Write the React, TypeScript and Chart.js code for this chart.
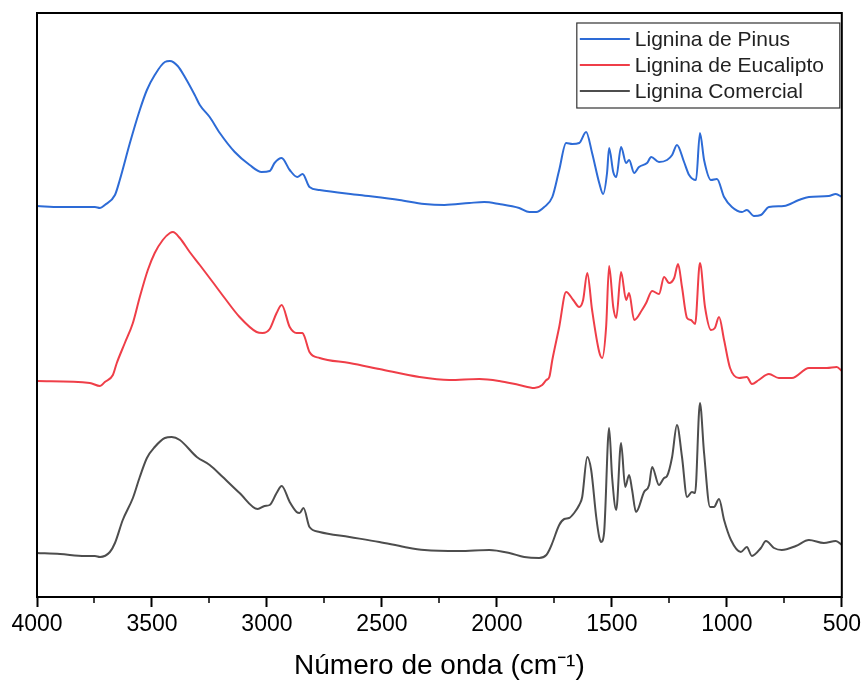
import React, { useEffect, useRef } from "react";
import { Chart, registerables } from "chart.js";

Chart.register(...registerables);

// Wavenumbers (cm-1) and relative transmittance values (arbitrary units, offset traces)
const pinusX = [4000,3900,3792,3748,3726,3705,3661,3640,3596,3553,3522,3488,3444,3422,3388,3357,3314,3292,3249,3205,3140,3075,3023,2988,2967,2936,2901,2868,2845,2815,2771,2597,2424,2315,2228,2120,2055,1990,1903,1859,1829,1794,1759,1729,1699,1672,1642,1612,1586,1555,1538,1521,1512,1494,1481,1460,1438,1425,1403,1382,1347,1329,1295,1260,1238,1217,1186,1164,1134,1117,1099,1069,1043,1012,978,934,913,882,852,817,752,687,643,557,526,500];
const pinusY = [391,390,390,390,389,392,402,417,454,487,507,522,535,536,531,520,502,492,480,464,445,432,425,426,434,439,427,420,423,410,407,402,397,393,392,394,395,393,389,385,385,390,400,427,454,453,454,465,444,414,403,424,449,425,420,450,434,437,424,430,434,440,435,437,442,452,435,422,417,464,437,417,418,400,390,385,387,381,382,390,391,397,400,401,403,400];

const eucaliptoX = [4000,3770,3726,3705,3670,3653,3618,3583,3553,3518,3488,3453,3422,3409,3379,3336,3292,3236,3184,3119,3045,3019,2988,2958,2936,2901,2871,2845,2836,2815,2771,2641,2511,2337,2207,2076,1990,1903,1837,1803,1785,1772,1759,1729,1699,1668,1642,1625,1607,1586,1555,1542,1525,1512,1494,1481,1460,1438,1425,1403,1369,1351,1325,1295,1273,1251,1229,1212,1195,1173,1156,1138,1117,1095,1069,1052,1034,1012,986,947,913,891,861,817,774,717,643,565,522,500];
const eucaliptoY = [216,214,211,215,222,234,254,274,300,327,344,357,364,365,359,345,332,315,299,280,265,264,268,284,292,270,264,264,260,245,239,234,228,220,217,218,216,212,209,212,217,220,237,270,305,297,290,297,324,287,245,239,270,331,290,279,325,297,304,277,287,294,306,303,320,314,319,333,310,279,277,273,334,290,267,269,280,257,229,219,220,213,217,223,219,219,229,229,230,226];

const comercialX = [4000,3900,3792,3748,3726,3683,3661,3627,3583,3553,3522,3488,3444,3414,3379,3305,3249,3192,3119,3040,3010,2988,2958,2936,2901,2871,2858,2841,2815,2771,2641,2511,2402,2315,2163,2033,1946,1881,1816,1785,1772,1759,1729,1707,1686,1664,1642,1629,1607,1590,1568,1555,1547,1534,1512,1499,1481,1460,1442,1425,1412,1395,1360,1338,1325,1295,1273,1260,1238,1217,1195,1173,1152,1138,1117,1099,1073,1056,1034,1012,982,939,913,891,852,830,795,761,700,643,578,526,500];
const comercialY = [44,43,41,41,40,45,54,77,99,120,139,150,159,160,157,140,132,120,104,88,91,92,104,111,95,85,84,89,70,65,60,55,50,47,46,47,44,40,39,42,47,54,72,78,79,84,92,100,140,127,80,60,55,64,169,120,87,154,110,122,107,85,105,112,130,112,119,121,140,172,140,100,105,104,194,144,90,90,98,77,57,45,50,41,49,56,49,47,51,57,54,56,52];

const seriesLabels = ["Lignina de Pinus", "Lignina de Eucalipto", "Lignina Comercial"];
const seriesColors = ["#2d6bd6", "#ef3e48", "#4d4d4d"];
const minorTickValues = [3750, 3250, 2750, 2250, 1750, 1250, 750];
const axisTitle = "Número de onda (cm⁻¹)";

const toPoints = (xs: number[], ys: number[]) => xs.map((x, i) => ({ x, y: ys[i] }));

const FONT = "'Liberation Sans', Arial, sans-serif";

const framePlugin = {
  id: "frameAndLegend",
  afterDraw(chart: any) {
    const { ctx, chartArea: a, scales } = chart;
    ctx.save();
    ctx.strokeStyle = "#000";
    ctx.lineWidth = 2;
    ctx.strokeRect(a.left, a.top, a.right - a.left, a.bottom - a.top);
    ctx.lineWidth = 1.5;
    const xs = scales.x;
    minorTickValues.forEach((v) => {
      const px = Math.round(xs.getPixelForValue(v));
      ctx.beginPath();
      ctx.moveTo(px, a.bottom);
      ctx.lineTo(px, a.bottom + 6);
      ctx.stroke();
    });
    const boxRight = a.right - 2;
    const boxLeft = boxRight - 263;
    const boxTop = a.top + 10;
    const boxH = 85;
    ctx.fillStyle = "#fff";
    ctx.fillRect(boxLeft, boxTop, boxRight - boxLeft, boxH);
    ctx.strokeStyle = "#333";
    ctx.lineWidth = 1.2;
    ctx.strokeRect(boxLeft, boxTop, boxRight - boxLeft, boxH);
    ctx.font = `21px ${FONT}`;
    ctx.textBaseline = "middle";
    ctx.textAlign = "left";
    chart.data.datasets.forEach((ds: any, i: number) => {
      const y = boxTop + 16 + i * 26;
      ctx.strokeStyle = ds.borderColor;
      ctx.lineWidth = 2;
      ctx.beginPath();
      ctx.moveTo(boxLeft + 3, y);
      ctx.lineTo(boxLeft + 53, y);
      ctx.stroke();
      ctx.fillStyle = "#222";
      ctx.fillText(ds.label, boxLeft + 58, y + 1);
    });
    ctx.restore();
  },
};

export default function App() {
  const ref = useRef<HTMLCanvasElement | null>(null);
  useEffect(() => {
    if (!ref.current) return;
    const seriesX = [pinusX, eucaliptoX, comercialX];
    const seriesY = [pinusY, eucaliptoY, comercialY];
    const chart = new Chart(ref.current, {
      type: "line",
      data: {
        datasets: seriesLabels.map((label, i) => ({
          label,
          data: toPoints(seriesX[i], seriesY[i]),
          borderColor: seriesColors[i],
          backgroundColor: seriesColors[i],
          borderWidth: 2,
          pointRadius: 0,
          cubicInterpolationMode: "monotone" as const,
          fill: false,
        })),
      },
      options: {
        responsive: false,
        animation: false,
        layout: { padding: { left: 37, right: 22, top: 13, bottom: 0 } },
        plugins: {
          legend: { display: false },
          tooltip: { enabled: false },
        },
        scales: {
          x: {
            type: "linear",
            reverse: true,
            min: 500,
            max: 4000,
            afterFit: (scale: any) => {
              scale.height = 90;
            },
            border: { display: false },
            grid: {
              display: true,
              drawOnChartArea: false,
              drawTicks: true,
              tickLength: 10,
              tickWidth: 2,
              tickColor: "#000",
            },
            ticks: {
              stepSize: 500,
              autoSkip: false,
              maxRotation: 0,
              padding: 4,
              color: "#000",
              font: { family: FONT, size: 23 },
              callback: (v: any) => String(v),
            },
            title: {
              display: true,
              text: axisTitle,
              color: "#000",
              font: { family: FONT, size: 28 },
              padding: { top: 0, bottom: 4 },
            },
          },
          y: {
            display: false,
            min: 0,
            max: 584,
          },
        },
      },
      plugins: [framePlugin],
    });
    return () => chart.destroy();
  }, []);
  return (
    <div style={{ position: "fixed", left: 0, top: 0, width: 865, height: 687, background: "#fff" }}>
      <canvas ref={ref} width={865} height={687} />
    </div>
  );
}
